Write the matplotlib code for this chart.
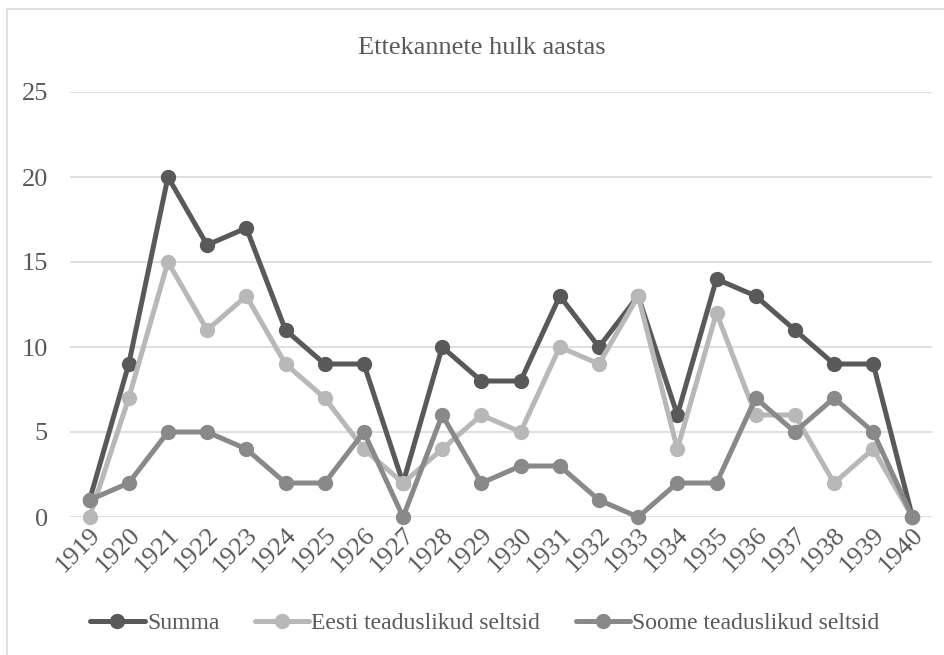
import matplotlib.pyplot as plt
from matplotlib.patches import Rectangle

plt.rcParams['font.family'] = ['Liberation Serif', 'DejaVu Serif']

years = [str(y) for y in range(1919, 1941)]
summa = [1, 9, 20, 16, 17, 11, 9, 9, 2, 10, 8, 8, 13, 10, 13, 6, 14, 13, 11, 9, 9, 0]
eesti = [0, 7, 15, 11, 13, 9, 7, 4, 2, 4, 6, 5, 10, 9, 13, 4, 12, 6, 6, 2, 4, 0]
soome = [1, 2, 5, 5, 4, 2, 2, 5, 0, 6, 2, 3, 3, 1, 0, 2, 2, 7, 5, 7, 5, 0]

series = [
    ('Summa', summa, '#595959'),
    ('Eesti teaduslikud seltsid', eesti, '#b8b8b8'),
    ('Soome teaduslikud seltsid', soome, '#898989'),
]

W, H = 945, 655
fig = plt.figure(figsize=(W / 100, H / 100), dpi=100)

# chart border (cut off at right/bottom in the reference)
fig.patches.append(Rectangle((7 / W, -0.1), 1.2, 1.1 - 9 / H,
                             transform=fig.transFigure, fill=False,
                             edgecolor='#d9d9d9', lw=1.2))

ax = fig.add_axes([70 / W, (H - 517) / H, (932 - 70) / W, (517 - 92) / H])
x = list(range(len(years)))
for name, vals, col in series:
    ax.plot(x, vals, color=col, lw=3.6, marker='o', ms=10, label=name,
            solid_capstyle='round', clip_on=False)

ax.set_xlim(-0.5, len(years) - 0.5)
ax.set_ylim(0, 25)
ax.set_yticks(range(0, 26, 5))
ax.set_xticks(x)
ax.set_xticklabels(years, rotation=45, ha='right', va='top',
                   rotation_mode='anchor')
ax.tick_params(axis='both', length=0, labelsize=19, colors='#595959')
ax.tick_params(axis='y', pad=16)
ax.tick_params(axis='x', pad=5)
ax.grid(axis='y', color='#d9d9d9', lw=1.2)
ax.set_axisbelow(True)
for s in ax.spines.values():
    s.set_visible(False)

fig.text(482 / W, 1 - 48 / H, 'Ettekannete hulk aastas', ha='center',
         va='center', fontsize=19, color='#595959')

fig.legend(loc='center', bbox_to_anchor=(485 / W, 1 - 623 / H), ncol=3,
           frameon=False, fontsize=17, handlelength=2.3, handletextpad=0.1,
           columnspacing=1.5, labelcolor='#595959')

fig.savefig('out.png', dpi=100)
